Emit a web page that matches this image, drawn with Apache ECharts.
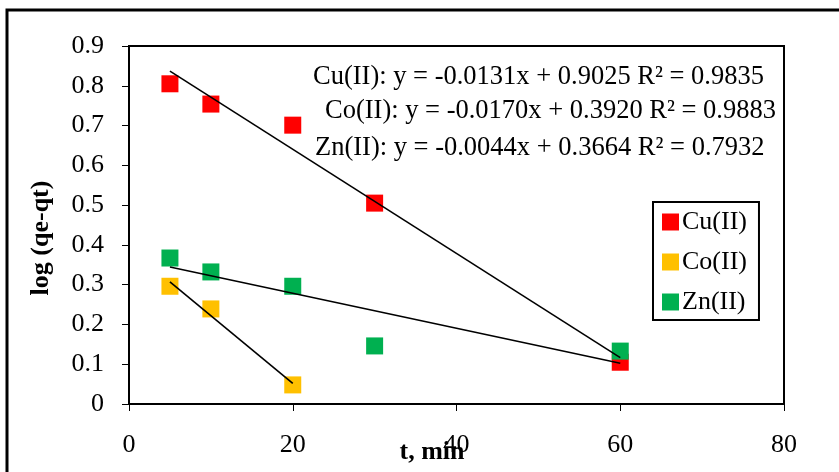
<!DOCTYPE html>
<html><head><meta charset="utf-8">
<script src="https://cdn.jsdelivr.net/npm/echarts@6/dist/echarts.min.js"></script>
<style>html,body{margin:0;padding:0;background:#fff}#c{width:839px;height:472px}</style>
</head><body><div id="c"></div>
<script>
const tCu = [5, 10, 20, 30, 60];
const cu = [0.805, 0.754, 0.701, 0.505, 0.105];
const tCo = [5, 10, 20];
const co = [0.296, 0.239, 0.048];
const tZn = [5, 10, 20, 30, 60];
const zn = [0.367, 0.332, 0.296, 0.146, 0.133];
const fitCu = {slope: -0.0131, icpt: 0.9025, x0: 5, x1: 60};
const fitCo = {slope: -0.0170, icpt: 0.3920, x0: 5, x1: 20};
const fitZn = {slope: -0.0044, icpt: 0.3664, x0: 5, x1: 60};
const eqTexts = [
  'Cu(II): y = -0.0131x + 0.9025 R² = 0.9835',
  'Co(II): y = -0.0170x + 0.3920 R² = 0.9883',
  'Zn(II): y = -0.0044x + 0.3664 R² = 0.7932'
];
const names = ['Cu(II)', 'Co(II)', 'Zn(II)'];
const colors = ['#ff0000', '#ffc000', '#00b050'];
const xTitle = 't, min';
const yTitle = 'log (qe-qt)';

const F = '"Liberation Serif", "Times New Roman", serif';
const pts = (xs, ys) => xs.map((x, i) => [x, ys[i]]);
const fitLine = f => [[f.x0, f.icpt + f.slope * f.x0], [f.x1, f.icpt + f.slope * f.x1]];

const chart = echarts.init(document.getElementById('c'));
const scatter = (n, d, c) => ({name: n, type: 'scatter', data: d, symbol: 'rect', symbolSize: 17, itemStyle: {color: c, opacity: 1}, z: 2});
const line = d => ({type: 'line', data: d, symbol: 'none', lineStyle: {color: '#000', width: 1.6}, z: 3, silent: true});
const eq = (t, x, y) => ({type: 'text', x: x, y: y, style: {text: t, font: '26.5px ' + F, fill: '#000', textVerticalAlign: 'middle'}});
chart.setOption({
  animation: false,
  grid: {left: 129, right: 55, top: 46, bottom: 68, show: true, borderColor: '#000', borderWidth: 2},
  xAxis: {type: 'value', min: 0, max: 80, interval: 20,
    axisLine: {lineStyle: {color: '#000', width: 2}}, axisTick: {show: true, length: 7, lineStyle: {color: '#000'}},
    splitLine: {show: false},
    axisLabel: {color: '#000', fontFamily: F, fontSize: 26, margin: 28}},
  yAxis: {type: 'value', min: 0, max: 0.9, interval: 0.1,
    axisLine: {show: true, lineStyle: {color: '#000', width: 2}}, axisTick: {show: true, length: 7, lineStyle: {color: '#000'}},
    splitLine: {show: false},
    axisLabel: {color: '#000', fontFamily: F, fontSize: 26, margin: 25, formatter: v => Math.round(v*10)/10 + ''}},
  legend: {data: names, orient: 'vertical', left: 653, top: 202, padding: [7, 12, 5, 9],
    borderColor: '#000', borderWidth: 2, itemWidth: 17, itemHeight: 17, itemGap: 14,
    icon: 'rect', textStyle: {color: '#000', fontFamily: F, fontSize: 26, padding: [0,0,0,-2]}},
  graphic: [
    {type: 'rect', shape: {x: 7, y: 10, width: 900, height: 500}, style: {fill: null, stroke: '#000', lineWidth: 3}, silent: true},
    eq(eqTexts[0], 313, 77),
    eq(eqTexts[1], 325, 111),
    eq(eqTexts[2], 315, 148),
    {type: 'text', x: 432, y: 452, style: {text: xTitle, font: 'bold 26px ' + F, fill: '#000', textAlign: 'center', textVerticalAlign: 'middle'}},
    {type: 'text', x: 41, y: 238, rotation: Math.PI / 2, style: {text: yTitle, font: 'bold 26px ' + F, fill: '#000', textAlign: 'center', textVerticalAlign: 'middle'}}
  ],
  series: [
    scatter(names[0], pts(tCu, cu), colors[0]),
    scatter(names[1], pts(tCo, co), colors[1]),
    scatter(names[2], pts(tZn, zn), colors[2]),
    line(fitLine(fitCu)), line(fitLine(fitCo)), line(fitLine(fitZn))
  ]
});
</script></body></html>
